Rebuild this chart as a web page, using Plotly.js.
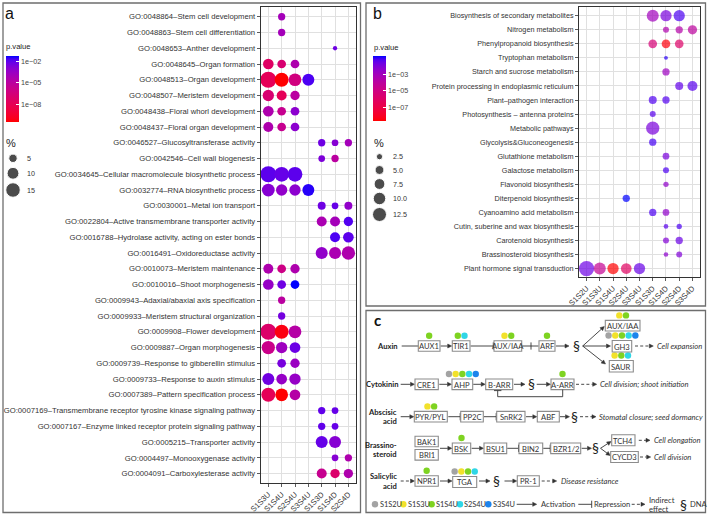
<!DOCTYPE html>
<html><head><meta charset="utf-8">
<script src="https://cdn.plot.ly/plotly-3.0.1.min.js"></script>
<style>html,body{margin:0;padding:0;background:#fff}#chart{width:708px;height:515px}</style>
</head><body><div id="chart"></div>
<script>
// ================= DATA =================
// ---- panel a : GO enrichment ----
const aSamples = ['S1S3U','S1S4U','S2S4U','S3S4U','S1S3D','S1S4D','S2S4D'];
const aTerms = [
'GO:0048864–Stem cell development','GO:0048863–Stem cell differentiation','GO:0048653–Anther development',
'GO:0048645–Organ formation','GO:0048513–Organ development','GO:0048507–Meristem development',
'GO:0048438–Floral whorl development','GO:0048437–Floral organ development','GO:0046527–Glucosyltransferase activity',
'GO:0042546–Cell wall biogenesis','GO:0034645–Cellular macromolecule biosynthetic process','GO:0032774–RNA biosynthetic process',
'GO:0030001–Metal ion transport','GO:0022804–Active transmembrane transporter activity','GO:0016788–Hydrolase activity, acting on ester bonds',
'GO:0016491–Oxidoreductase activity','GO:0010073–Meristem maintenance','GO:0010016–Shoot morphogenesis',
'GO:0009943–Adaxial/abaxial axis specification','GO:0009933–Meristem structural organization','GO:0009908–Flower development',
'GO:0009887–Organ morphogenesis','GO:0009739–Response to gibberellin stimulus','GO:0009733–Response to auxin stimulus',
'GO:0007389–Pattern specification process','GO:0007169–Transmembrane receptor tyrosine kinase signaling pathway',
'GO:0007167–Enzyme linked receptor protein signaling pathway','GO:0005215–Transporter activity',
'GO:0004497–Monooxygenase activity','GO:0004091–Carboxylesterase activity'];
const aTermIdx = [0,1,2, 3,3,3, 4,4,4,4, 5,5,5, 6,6,6, 7,7,7, 8,8,8, 9,9, 10,10,10, 11,11,11,11,
  12,12,12, 13,13,13, 14,14, 15,15,15, 16,16,16, 17,17,17, 18, 19, 20,20,20, 21,21,21, 22,22,
  23,23,23, 24,24,24, 25,25, 26,26, 27,27, 28,28, 29,29,29];
const aDotSample = ['S1S4U','S1S4U','S1S4D',
  'S1S3U','S1S4U','S2S4U', 'S1S3U','S1S4U','S2S4U','S3S4U', 'S1S3U','S1S4U','S2S4U',
  'S1S3U','S1S4U','S2S4U', 'S1S3U','S1S4U','S2S4U', 'S1S3D','S1S4D','S2S4D', 'S1S3D','S1S4D',
  'S1S3U','S1S4U','S2S4U', 'S1S3U','S1S4U','S2S4U','S3S4U', 'S1S3D','S1S4D','S2S4D',
  'S1S3D','S1S4D','S2S4D', 'S1S4D','S2S4D', 'S1S3D','S1S4D','S2S4D', 'S1S3U','S1S4U','S2S4U',
  'S1S3U','S1S4U','S2S4U', 'S1S4U', 'S1S4U', 'S1S3U','S1S4U','S2S4U', 'S1S3U','S1S4U','S2S4U',
  'S1S4U','S2S4U', 'S1S3U','S1S4U','S2S4U', 'S1S3U','S1S4U','S2S4U', 'S1S3D','S1S4D',
  'S1S3D','S1S4D', 'S1S3D','S1S4D', 'S1S4D','S2S4D', 'S1S3D','S1S4D','S2S4D'];
const aPct = [3.8,3.8,1.3, 8.1,5.4,5.4, 18.2,13.9,11.5,10.2, 9.1,7.1,6.2, 8.1,5.4,5.4, 7.1,5.4,5.4,
  3.8,3.2,3.8, 3.2,3.8, 18.2,15.4,15.4, 11.5,9.1,9.1,10.2, 4.5,3.2,4.5, 7.1,7.1,6.2, 7.1,8.1,
  10.2,10.2,12.6, 7.1,5.4,6.2, 8.1,5.4,5.4, 3.8, 3.8, 18.2,13.9,11.5, 12.6,9.1,8.1, 5.4,6.2,
  10.2,8.1,9.1, 13.9,11.5,8.1, 3.8,3.2, 3.8,3.2, 10.2,10.2, 3.2,3.8, 7.1,6.2,6.2];
const aPval = [1.2e-4,1.2e-4,5e-3, 4e-8,1.3e-7,4e-5, 1.3e-8,3e-11,5e-7,2e-2, 1.3e-7,1.3e-8,1.2e-5,
  4e-5,2.4e-6,9e-4, 4e-5,2.4e-6,9e-4, 5e-3,1.3e-3,1.2e-4, 2.2e-3,1.2e-5, 1.1e-2,7.6e-3,1.1e-2,
  1.3e-3,5.5e-4,9e-4,3.5e-2, 5e-3,7.6e-3,5.5e-4, 6e-5,1.2e-4,1.6e-2, 2e-2,1.1e-2, 5.5e-4,6e-5,4e-5,
  4e-5,9e-7,4e-5, 3.9e-4,5e-3,6e-2, 1.2e-5, 3.7e-3, 6.8e-8,6e-11,2e-5, 1.3e-6,2e-4,5.9e-3,
  3e-3,2.5e-4, 4.4e-3,3.9e-4,3.9e-4, 1.3e-8,3e-11,2e-5, 9e-3,7.6e-3, 9e-3,7.6e-3, 7.6e-3,1.3e-3,
  1.3e-3,4e-5, 2.4e-6,8e-8,4e-5];
const aSizeBreaks = [5,10,15];
const aPTicks = [1e-2,1e-5,1e-8];
const aPTickText = ['1e−02','1e−05','1e−08'];

// ---- panel b : KEGG enrichment ----
const bSamples = ['S1S2U','S1S3U','S1S4U','S2S4U','S3S4U','S1S3D','S1S4D','S2S4D','S3S4D'];
const bPaths = ['Biosynthesis of secondary metabolites','Nitrogen metabolism','Phenylpropanoid biosynthesis',
  'Tryptophan metabolism','Starch and sucrose metabolism','Protein processing in endoplasmic reticulum',
  'Plant–pathogen interaction','Photosynthesis – antenna proteins','Metabolic pathways','Glycolysis&Gluconeogenesis',
  'Glutathione metabolism','Galactose metabolism','Flavonoid biosynthesis','Diterpenoid biosynthesis',
  'Cyanoamino acid metabolism','Cutin, suberine and wax biosynthesis','Carotenoid biosynthesis',
  'Brassinosteroid biosynthesis','Plant hormone signal transduction'];
const bTermIdx = [0,0,0, 1,1,1, 2,2,2, 3, 4, 5,5, 6,6, 7, 8, 9, 10, 11, 12, 13, 14,14, 15,15, 16,16, 17,17, 18,18,18,18,18];
const bDotSample = ['S1S3D','S1S4D','S2S4D', 'S1S4D','S2S4D','S3S4D', 'S1S3D','S1S4D','S2S4D', 'S1S4D', 'S1S4D',
  'S2S4D','S3S4D', 'S1S3D','S1S4D', 'S1S3D', 'S1S3D', 'S1S3D', 'S1S4D', 'S1S4D', 'S1S4D', 'S2S4U',
  'S1S3D','S1S4D', 'S1S4D','S2S4D', 'S1S4D','S2S4D', 'S1S4D','S2S4D', 'S1S2U','S1S3U','S1S4U','S2S4U','S3S4U'];
const bPct = [9.2,8.1,8.1, 2.3,3.4,5.5, 4.8,4.8,4.8, 1.0, 3.4, 4.1,6.4, 4.1,3.4, 2.3, 11.3, 3.4, 2.9, 2.3, 1.8, 3.4,
  3.4,2.9, 1.4,1.8, 2.3,3.4, 1.4,2.3, 15,9.2,8.1,7.3,8.1];
const bPval = [1e-3,1.1e-2,5.5e-2, 3.2e-4,2e-4,1e-4, 4.3e-6,4e-9,1.3e-6, 8.5e-2, 1.3e-3, 2.8e-2,3.7e-2,
  4.9e-2,4.5e-2, 3.7e-2, 1.1e-2, 6.2e-2, 1.1e-2, 5.5e-2, 3.2e-3, 1.4e-1, 5.5e-2,3.2e-3, 3.7e-2,5.5e-2,
  7e-3,2.2e-2, 4e-3,8e-3, 2e-2,3.6e-5,2.6e-9,8.3e-7,2.4e-2];
const bSizeBreaks = [2.5,5.0,7.5,10.0,12.5];
const bPTicks = [1e-3,1e-5,1e-7];
const bPTickText = ['1e−03','1e−05','1e−07'];

// ---- panel c : hormone pathway, which comparisons hit each gene ----
const cSamples = ['S1S2U','S1S3U','S1S4U','S2S4U','S3S4U'];
const cHitGene = ['AUX1','TIR1','AUX/IAA','ARF','AUX/IAA*','GH3','SAUR','AHP','A-ARR','PYR/PYL','BSK','NPR1','TGA'];
const cHitSamples = [['S1S4U'],['S1S4U','S2S4U'],['S1S3U','S1S4U'],['S1S4U'],['S1S3U','S1S4U'],
  ['S1S2U','S1S3U','S1S4U','S2S4U','S3S4U'],['S1S3U','S1S4U','S2S4U'],['S1S2U','S1S3U','S1S4U','S2S4U','S3S4U'],
  ['S1S4U'],['S1S3U','S1S4U'],['S1S4U'],['S1S4U'],['S1S2U','S1S3U','S1S4U','S2S4U']];

// ================= STYLE / LAYOUT =================
const W = 708, H = 515;
const SANS = '"Liberation Sans", Arial, Helvetica, sans-serif';
const CFONT = 'Lato, "Noto Sans", sans-serif';
const sampleColor = {S1S2U:'#A3A3A3',S1S3U:'#F2E12B',S1S4U:'#7ED321',S2S4U:'#2FD6E6',S3S4U:'#1C84EC'};

// ggplot-like red->blue gradient interpolated in CIELAB
function lab2hex(L,a,b){
  const fy=(L+16)/116, fx=fy+a/500, fz=fy-b/200;
  const fi=t=>t*t*t>0.008856?t*t*t:(t-16/116)/7.787;
  const X=0.95047*fi(fx), Y=fi(fy), Z=1.08883*fi(fz);
  let r=3.2404542*X-1.5371385*Y-0.4985314*Z, g=-0.9692660*X+1.8760108*Y+0.0415560*Z, bb=0.0556434*X-0.2040259*Y+1.0572252*Z;
  const gm=c=>{c=c>0.0031308?1.055*Math.pow(c,1/2.4)-0.055:12.92*c;return Math.round(Math.max(0,Math.min(1,c))*255);};
  return 'rgb('+gm(r)+','+gm(g)+','+gm(bb)+')';
}
const LR=[53.24,80.09,67.20], LB=[32.30,79.19,-107.86];
const cscale=[];
for(let i=0;i<=20;i++){const t=i/20;cscale.push([t,lab2hex(LR[0]+(LB[0]-LR[0])*t,LR[1]+(LB[1]-LR[1])*t,LR[2]+(LB[2]-LR[2])*t)]);}

const aLog = aPval.map(Math.log10), bLog = bPval.map(Math.log10);
const px = v => v / W, py = v => 1 - v / H;

const traces = [];
traces.push({type:'scatter',mode:'markers',xaxis:'x',yaxis:'y',cliponaxis:false,
  x:aDotSample, y:aTermIdx.map(i=>aTerms[i]),
  marker:{size:aPct,sizemode:'area',sizeref:0.142,color:aLog,coloraxis:'coloraxis',line:{width:0},opacity:1}});
traces.push({type:'scatter',mode:'markers',xaxis:'x2',yaxis:'y2',cliponaxis:false,
  x:bDotSample, y:bTermIdx.map(i=>bPaths[i]),
  marker:{size:bPct,sizemode:'area',sizeref:0.1275,color:bLog,coloraxis:'coloraxis2',line:{width:0}}});

// size legends (keys placed in layout pixel frame, sizes via the same sizeref)
const aKeyY=[158.3,173.3,190], bKeyY=[156.7,170,184,198.5,214.5];
traces.push({type:'scatter',mode:'markers',xaxis:'x3',yaxis:'y3',cliponaxis:false,
  x:aSizeBreaks.map(()=>13), y:aKeyY, marker:{size:aSizeBreaks,sizemode:'area',sizeref:0.142,color:'#000'}});
traces.push({type:'scatter',mode:'markers',xaxis:'x3',yaxis:'y3',cliponaxis:false,
  x:bSizeBreaks.map(()=>379.5), y:bKeyY, marker:{size:bSizeBreaks,sizemode:'area',sizeref:0.1275,color:'#000'}});

const shapes = [], annos = [];
function T(x,y,text,o){annos.push(Object.assign({xref:'x3',yref:'y3',x:x,y:y,text:text,showarrow:false,
  xanchor:'center',yanchor:'middle',borderpad:0,font:{family:CFONT,size:7.6,color:'#333'}},o||{}));}
function L(x0,y0,x1,y1,dash,w){shapes.push({type:'line',xref:'x3',yref:'y3',x0:x0,y0:y0,x1:x1,y1:y1,layer:'above',
  line:{color:'#333',width:w||0.9,dash:dash||'solid'}});}
function R(x0,y0,x1,y1,col,w){shapes.push({type:'rect',xref:'x3',yref:'y3',x0:x0,y0:y0,x1:x1,y1:y1,layer:'below',
  line:{color:col,width:w},fillcolor:'rgba(0,0,0,0)'});}

// panel frames
R(3,3,360.5,512.5,'#6e6e6e',1.3);
R(366,3,705.5,306,'#6e6e6e',1.3);
R(366,310.5,705.5,512.5,'#6e6e6e',1.3);
T(9.5,13,'a',{font:{family:SANS,size:16,color:'#111'}});
T(377,13,'b',{font:{family:SANS,size:16,color:'#111'}});
T(377,319.5,'<b>c</b>',{font:{family:CFONT,size:15,color:'#111'}});

// legend titles / labels for a and b
T(5,46.7,'p.value',{xanchor:'left',font:{family:SANS,size:7.6,color:'#222'}});
T(5,142.5,'%',{xanchor:'left',font:{family:SANS,size:11,color:'#222'}});
aSizeBreaks.forEach((v,i)=>T(26,aKeyY[i],String(v),{xanchor:'left',font:{family:SANS,size:7.2,color:'#333'}}));
T(372.5,47.3,'p.value',{xanchor:'left',font:{family:SANS,size:7.6,color:'#222'}});
T(372.5,142.5,'%',{xanchor:'left',font:{family:SANS,size:11,color:'#222'}});
bSizeBreaks.forEach((v,i)=>T(392,bKeyY[i],v.toFixed(1),{xanchor:'left',font:{family:SANS,size:7.2,color:'#333'}}));

// ---------- panel c diagram ----------
const boxLine = '#8c8c8c';
const boxes = {}; // geometry (layout), keyed by gene
function box(key,label,x0,x1,yc,h){h=h||10.6;
  shapes.push({type:'rect',xref:'x3',yref:'y3',x0:x0,x1:x1,y0:yc-h/2,y1:yc+h/2,layer:'above',
    line:{color:boxLine,width:1.1},fillcolor:'rgba(255,255,255,0)'});
  T((x0+x1)/2,yc+0.3,label); boxes[key]={cx:(x0+x1)/2,top:yc-h/2};}
function head(x1,y1,ux,uy){const hl=4,hw=2,bx=x1-ux*hl,by=y1-uy*hl;
  shapes.push({type:'path',xref:'x3',yref:'y3',layer:'above',fillcolor:'#333',line:{color:'#333',width:0.5},
    path:'M'+x1+','+y1+' L'+(bx-uy*hw)+','+(by+ux*hw)+' L'+(bx+uy*hw)+','+(by-ux*hw)+' Z'});return [bx,by];}
function link(x0,y0,x1,y1,kind){const dx=x1-x0,dy=y1-y0,l=Math.hypot(dx,dy),ux=dx/l,uy=dy/l;
  let e=[x1,y1];
  if(kind==='act'||kind==='ind') e=head(x1,y1,ux,uy);
  L(x0,y0,e[0],e[1],kind==='ind'?'3px,2.2px':'solid');
  if(kind==='rep') L(x1-uy*3.6,y1+ux*3.6,x1+uy*3.6,y1-ux*3.6);}
const bold = s => '<b>'+s+'</b>';
const lab = (x,y,s)=>T(x,y,bold(s),{xanchor:'right',font:{family:CFONT,size:7.6,color:'#222'}});
const ital = (x,y,s)=>T(x,y,'<i>'+s+'</i>',{xanchor:'left',font:{family:CFONT,size:7.6,color:'#333'}});
const sect = (x,y,s)=>T(x,y,'§',{font:{family:CFONT,size:s||14,color:'#222'}});

// Auxin
let y=346; lab(399,y,'Auxin');
link(401.7,y,418.3,y,'line'); box('AUX1','AUX1',418.3,440,y);
link(440.7,y,451.7,y,'act'); box('TIR1','TIR1',452.3,470,y);
link(470.7,y,493.3,y,'rep'); box('AUX/IAA','AUX/IAA',494,521.7,y);
link(522.3,y,531,y,'rep'); L(531,y,538.5,y); box('ARF','ARF',539,555,y);
link(556,y,569,y,'act'); sect(576.5,y-0.5);
link(582.7,y,604.3,326.5,'act'); link(582.7,y,610.5,y,'act'); link(582.7,y,605.5,364,'act');
box('AUX/IAA*','AUX/IAA',605.3,640,325.7); box('GH3','GH3',612.2,631.7,346.3,11.5); box('SAUR','SAUR',609.3,633.3,366.3,11.5);
link(635,y,653.3,y,'ind'); ital(655.5,y,'Cell expansion');
// Cytokinin
y=384.3; lab(400,y,'Cytokinin');
link(400.7,y,414.5,y,'act'); box('CRE1','CRE1',415,438.3,y);
link(439.3,y,451.5,y,'act'); box('AHP','AHP',452,472.7,y);
link(473.3,y,485.2,y,'act'); box('B-ARR','B-ARR',485.7,512.7,y);
link(514,y,525,y,'act'); sect(531,y-0.5); link(536.7,y,550.5,y,'act'); box('A-ARR','A-ARR',551,574,y);
link(576,y,596.7,y,'ind'); ital(599,y,'Cell division; shoot initiation');
shapes.push({type:'path',xref:'x3',yref:'y3',layer:'above',line:{color:'#333',width:0.9},fillcolor:'rgba(0,0,0,0)',
  path:'M562.7,389.6 L562.7,396.7 L497.7,396.7 L497.7,390.6'});
L(494,390.6,501.4,390.6);
// Abscisic acid
y=416.7; lab(398,411.5,'Abscisic'); lab(398,421,'acid');
link(400.7,y,413.8,y,'act'); box('PYR/PYL','PYR/PYL',414.3,447.3,y);
link(448.3,y,460.2,y,'rep'); box('PP2C','PP2C',460.7,483.3,y);
link(484,y,496.2,y,'rep'); box('SnRK2','SnRK2',496.7,525,y);
link(526,y,536.8,y,'act'); box('ABF','ABF',537.3,559.3,y);
link(560,y,569.5,y,'act'); sect(574.5,y-0.5);
link(580,y,596,y,'ind'); ital(597.5,y,'Stomatal closure; seed dormancy');
// Brassinosteroid
y=448.3; lab(398,445.3,'Brassino-'); lab(398,453.5,'steroid');
box('BAK1','BAK1',415,438.3,441.5); box('BRI1','BRI1',415,438.3,454.8);
link(440,y,451.8,y,'act'); box('BSK','BSK',452.3,470.7,y);
link(471.7,y,483.5,y,'act'); box('BSU1','BSU1',484,506.7,y);
link(507.3,y,518.5,y,'rep'); box('BIN2','BIN2',519,542.7,y);
link(543.3,y,550.2,y,'rep'); box('BZR1/2','BZR1/2',550.7,580.7,y);
link(581.7,y,591.5,y,'act'); sect(595.5,y-0.5);
link(600.5,y,611,441.5,'act'); link(600.5,y,610.2,455.5,'act');
box('TCH4','TCH4',611.7,635,440.3,11); box('CYCD3','CYCD3',610.7,638.3,457,11);
link(638.8,440.3,650,440.3,'ind'); ital(652.5,440.3,'Cell elongation');
link(640,457,650.7,457,'ind'); ital(652.5,457,'Cell division');
// Salicylic acid
y=481; lab(398,476,'Salicylic'); lab(398,485.5,'acid');
link(400.7,y,414.5,y,'ind'); box('NPR1','NPR1',415,438.3,y);
link(440,y,452,y,'act'); box('TGA','TGA',452.7,476.7,482,11);
link(479,y,490,y,'act'); sect(496.5,y-0.5); link(504.5,y,516.8,y,'act');
box('PR-1','PR-1',517.3,539.3,y);
link(541.7,y,556.7,y,'ind'); ital(559.5,y,'Disease resistance');

// gene hit dots, centred above each box
const dX=[],dY=[],dC=[];
cHitGene.forEach((g,i)=>{const b=boxes[g],n=cHitSamples[i].length;
  cHitSamples[i].forEach((s,j)=>{dX.push(b.cx+(j-(n-1)/2)*6.7);dY.push(b.top-5);dC.push(sampleColor[s]);});});
// bottom legend
y=504.3;
cSamples.forEach((s,i)=>{dX.push(375+i*28.33);dY.push(y);dC.push(sampleColor[s]);
  T(378.5+i*28.33,y,s,{xanchor:'left',font:{family:CFONT,size:7.4,color:'#333'}});});
traces.push({type:'scatter',mode:'markers',xaxis:'x3',yaxis:'y3',cliponaxis:false,x:dX,y:dY,
  marker:{size:6.4,color:dC,line:{width:0}}});
link(516.7,y,536.7,y,'act'); T(540,y,'Activation',{xanchor:'left'});
link(578.3,y,591.7,y,'rep'); T(593,y,'Repression',{xanchor:'left'});
link(631.7,y,645,y,'ind'); T(648.3,500,'Indirect',{xanchor:'left'}); T(648.3,508.5,'effect',{xanchor:'left'});
sect(683.3,y,14); T(688.5,y,'DNA',{xanchor:'left'});

// axes
const tickFont = {family:SANS,size:7.7,color:'#333'};
function catAxis(dom,cats,range,extra){return Object.assign({domain:dom,type:'category',categoryorder:'array',categoryarray:cats,
  range:range,autorange:false,showgrid:true,gridcolor:'#E0E0E0',gridwidth:1,zeroline:false,showline:true,linecolor:'#333',
  linewidth:1,mirror:true,ticks:'outside',ticklen:3,tickwidth:0.8,tickcolor:'#333',tickfont:tickFont,fixedrange:true},extra||{});}
const layout = {
  width:W,height:H,margin:{l:0,r:0,t:0,b:0},paper_bgcolor:'#fff',plot_bgcolor:'rgba(0,0,0,0)',showlegend:false,
  font:{family:SANS,color:'#333'},
  xaxis:catAxis([px(260.7),px(356)],aSamples,[-0.57,aSamples.length-0.43],{anchor:'y',tickangle:-45}),
  yaxis:catAxis([py(483),py(7.3)],aTerms,[aTerms.length-0.4,-0.6],{anchor:'x'}),
  xaxis2:catAxis([px(579),px(700)],bSamples,[-0.57,bSamples.length-0.43],{anchor:'y2',tickangle:-45}),
  yaxis2:catAxis([py(277),py(7.3)],bPaths,[bPaths.length-0.4,-0.6],{anchor:'x2',tickfont:{family:SANS,size:7.25,color:'#333'}}),
  xaxis3:{domain:[0,1],range:[0,W],autorange:false,visible:false,fixedrange:true,anchor:'y3'},
  yaxis3:{domain:[0,1],range:[H,0],autorange:false,visible:false,fixedrange:true,anchor:'x3'},
  coloraxis:{colorscale:cscale,cmin:Math.min(...aLog),cmax:Math.max(...aLog),
    colorbar:{x:px(6),xanchor:'left',y:py(56),yanchor:'top',len:65.7,lenmode:'pixels',thickness:13.3,thicknessmode:'pixels',
      outlinewidth:0,xpad:0,ypad:0,tickmode:'array',tickvals:aPTicks.map(Math.log10),ticktext:aPTickText,
      ticks:'inside',ticklen:3,tickcolor:'#fff',tickfont:{family:SANS,size:7.2,color:'#444'},title:{text:''}}},
  coloraxis2:{colorscale:cscale,cmin:Math.min(...bLog),cmax:Math.max(...bLog),
    colorbar:{x:px(372.7),xanchor:'left',y:py(56),yanchor:'top',len:64.7,lenmode:'pixels',thickness:13.3,thicknessmode:'pixels',
      outlinewidth:0,xpad:0,ypad:0,tickmode:'array',tickvals:bPTicks.map(Math.log10),ticktext:bPTickText,
      ticks:'inside',ticklen:3,tickcolor:'#fff',tickfont:{family:SANS,size:7.2,color:'#444'},title:{text:''}}},
  shapes:shapes, annotations:annos
};
Plotly.newPlot('chart',traces,layout,{staticPlot:true,displayModeBar:false});
</script></body></html>
